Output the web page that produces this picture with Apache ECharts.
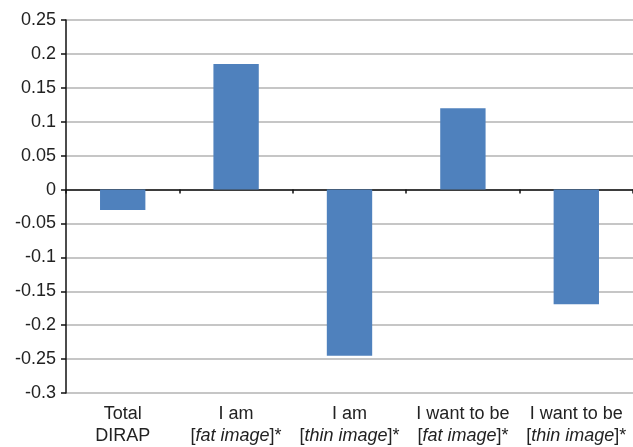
<!DOCTYPE html>
<html>
<head>
<meta charset="utf-8">
<script src="https://cdn.jsdelivr.net/npm/echarts@6/dist/echarts.min.js"></script>
<style>
html,body{margin:0;padding:0;background:#fff;}
#chart{width:633px;height:447px;}
</style>
</head>
<body>
<div id="chart"></div>
<script>
const categories = ['Total\nDIRAP', 'I am\n[fat image]*', 'I am\n[thin image]*', 'I want to be\n[fat image]*', 'I want to be\n[thin image]*'];
const values = [-0.03, 0.185, -0.245, 0.12, -0.169];
const yMin = -0.3, yMax = 0.25, yStep = 0.05;

const chart = echarts.init(document.getElementById('chart'));
const fontFamily = '"Liberation Sans", Arial, Helvetica, sans-serif';

function fmtLabel(v) {
  return v.replace(/\[([^\]]+)\]/g, '[{i|$1}]');
}

chart.setOption({
  animation: false,
  backgroundColor: '#fff',
  grid: { left: 66, right: -8, top: 20, bottom: 52, containLabel: false },
  xAxis: [
    {
      type: 'category',
      data: categories,
      position: 'bottom',
      axisLine: { show: false, onZero: false },
      axisTick: { show: false },
      axisLabel: {
        interval: 0,
        margin: 10,
        color: '#222',
        fontSize: 18,
        fontFamily: fontFamily,
        lineHeight: 22,
        formatter: fmtLabel,
        rich: { i: { fontStyle: 'italic', fontSize: 18, fontFamily: fontFamily, color: '#222', lineHeight: 22 } }
      },
      splitLine: { show: false }
    },
    {
      type: 'category',
      data: categories,
      position: 'top',
      axisLine: { show: true, onZero: true, lineStyle: { color: '#111', width: 1.5 } },
      axisTick: { show: true, inside: true, length: 4, lineStyle: { color: '#111', width: 1.5 } },
      axisLabel: { show: false },
      splitLine: { show: false }
    }
  ],
  yAxis: {
    type: 'value',
    min: yMin,
    max: yMax,
    interval: yStep,
    axisLine: { show: true, onZero: false, lineStyle: { color: '#111', width: 1.5 } },
    axisTick: { show: true, length: 5, lineStyle: { color: '#111', width: 1.5 } },
    axisLabel: {
      margin: 10,
      color: '#222',
      fontSize: 18,
      fontFamily: fontFamily,
      formatter: function (v) { return String(parseFloat(v.toFixed(2))); }
    },
    splitLine: { show: true, lineStyle: { color: '#b3b3b3', width: 1.5 } }
  },
  series: [{
    type: 'bar',
    data: values,
    xAxisIndex: 0,
    barWidth: '40%',
    itemStyle: { color: '#4f81bd' }
  }]
});
</script>
</body>
</html>
